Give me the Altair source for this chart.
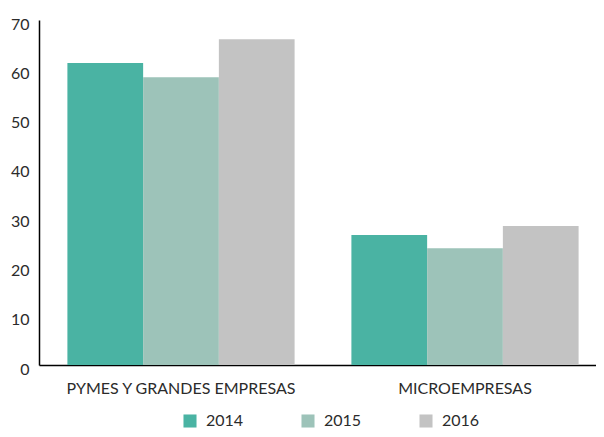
import altair as alt
import pandas as pd

categories = ["PYMES Y GRANDES EMPRESAS", "MICROEMPRESAS"]
years = ["2014", "2015", "2016"]
values_2014 = [61.3, 26.4]
values_2015 = [58.4, 23.7]
values_2016 = [66.1, 28.2]
colors = ["#4ab3a3", "#9dc3b9", "#c3c3c3"]

rows = []
for i, c in enumerate(categories):
    for y, vals in zip(years, [values_2014, values_2015, values_2016]):
        rows.append({"cat": c, "year": y, "value": vals[i]})
df = pd.DataFrame(rows)

FONT = "Lato"
LABEL_COLOR = "#2b2b2b"
chart = alt.Chart(df).mark_bar(clip=False).encode(
    x=alt.X("cat:N", sort=categories, title=None,
            scale=alt.Scale(paddingInner=0.2, paddingOuter=0.1, range=[0, 568]),
            axis=alt.Axis(labelAngle=0, ticks=False, domainColor="#000", domainWidth=1.5,
                          labelFontSize=16, labelColor=LABEL_COLOR, labelFont=FONT,
                          labelPadding=15, labelLimit=400)),
    xOffset=alt.XOffset("year:N", sort=years),
    y=alt.Y("value:Q", title=None,
            scale=alt.Scale(domain=[0, 70], nice=False),
            axis=alt.Axis(values=[0, 10, 20, 30, 40, 50, 60, 70], grid=False, ticks=False,
                          domainColor="#000", domainWidth=1.5,
                          labelFontSize=16, labelColor=LABEL_COLOR, labelFont=FONT,
                          labelPadding=10, labelBaseline="middle",
                          labelOffset=4)),
    color=alt.Color("year:N", sort=years, title=None,
                    scale=alt.Scale(domain=years, range=colors),
                    legend=alt.Legend(orient="none", direction="horizontal",
                                      legendX=143, legendY=393,
                                      symbolType="square", symbolSize=170,
                                      symbolStrokeWidth=0,
                                      labelFontSize=16, labelColor=LABEL_COLOR, labelFont=FONT,
                                      columnPadding=56, labelOffset=8)),
).properties(
    width=557, height=345,
    autosize=alt.AutoSizeParams(type="none"),
    padding={"left": 31, "top": 12, "right": 0, "bottom": 64},
).configure_view(stroke=None)

chart.save("out.html", embed_options={"renderer": "svg", "actions": False})
